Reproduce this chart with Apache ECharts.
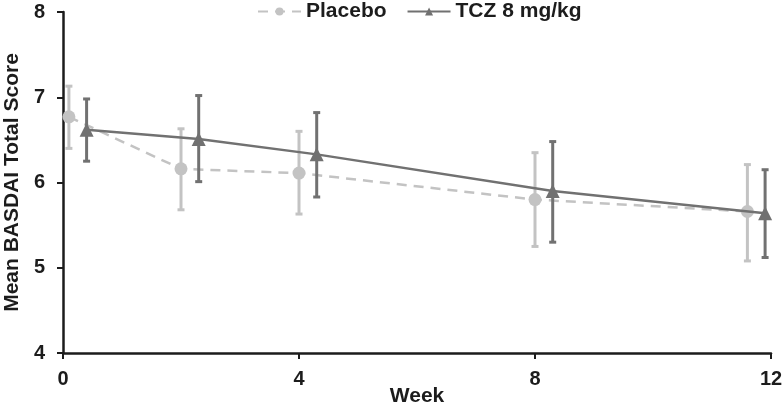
<!DOCTYPE html>
<html>
<head>
<meta charset="utf-8">
<script src="https://cdn.jsdelivr.net/npm/echarts@6/dist/echarts.min.js"></script>
<style>
  html, body { margin: 0; padding: 0; background: #fff; }
  #chart { width: 784px; height: 408px; }
</style>
</head>
<body>
<div id="chart"></div>
<script>
// data
const placeboWeek = [0.1, 2, 4, 8, 11.6];
const placeboMean = [6.77, 6.16, 6.11, 5.80, 5.66];
const placeboLow = [6.40, 5.68, 5.63, 5.25, 5.08];
const placeboHigh = [7.13, 6.63, 6.60, 6.35, 6.21];

const tczWeek = [0.4, 2.3, 4.3, 8.3, 11.9];
const tczMean = [6.62, 6.51, 6.33, 5.90, 5.64];
const tczLow = [6.25, 6.01, 5.83, 5.30, 5.12];
const tczHigh = [6.98, 7.02, 6.82, 6.48, 6.15];

const xTicks = [0, 4, 8, 12];
const yTicks = [4, 5, 6, 7, 8];

const lightGray = "#c3c3c3";
const darkGray = "#717171";
const ink = "#1c1c1c";
const font = "Liberation Sans";

function pairs(xs, ys) {
  return xs.map((x, i) => [x, ys[i]]);
}

function errRows(xs, lo, hi) {
  return xs.map((x, i) => [x, lo[i], hi[i]]);
}

function errBar(color) {
  return function (params, api) {
    const x = api.value(0);
    const top = api.coord([x, api.value(2)]);
    const bot = api.coord([x, api.value(1)]);
    const cap = 3.5;
    const style = { stroke: color, lineWidth: 3 };
    return {
      type: "group",
      children: [
        { type: "line", shape: { x1: top[0], y1: top[1], x2: bot[0], y2: bot[1] }, style: style },
        { type: "line", shape: { x1: top[0] - cap, y1: top[1], x2: top[0] + cap, y2: top[1] }, style: style },
        { type: "line", shape: { x1: bot[0] - cap, y1: bot[1], x2: bot[0] + cap, y2: bot[1] }, style: style },
      ],
    };
  };
}

const chart = echarts.init(document.getElementById("chart"), null, { renderer: "canvas" });

const nameStyle = { fontSize: 21, fontWeight: "bold", color: ink, fontFamily: font };

let option = {
  animation: false,
  backgroundColor: "#fff",
  textStyle: { fontFamily: font },
  grid: { left: 63, right: 13, top: 12, bottom: 55, containLabel: false, outerBoundsMode: "none" },
  legend: {
    top: -4,
    left: 252,
    itemWidth: 43,
    itemHeight: 10,
    itemGap: 20,
    textStyle: { fontSize: 21, fontWeight: "bold", color: ink, fontFamily: font },
    data: ["Placebo", "TCZ 8 mg/kg"],
  },
  xAxis: {
    type: "value",
    min: 0,
    max: 12,
    interval: 4,
    name: "Week",
    nameLocation: "middle",
    nameGap: 33,
    nameMoveOverlap: false,
    nameTextStyle: nameStyle,
    axisLine: { lineStyle: { color: ink, width: 2.5 } },
    axisTick: { show: true, length: 6, lineStyle: { color: ink, width: 2 } },
    axisLabel: {
      fontSize: 20,
      fontWeight: "bold",
      color: ink,
      margin: 16,
      formatter: (v) => (xTicks.includes(v) ? String(v) : ""),
    },
    splitLine: { show: false },
  },
  yAxis: {
    type: "value",
    min: 4,
    max: 8,
    interval: 1,
    name: "Mean BASDAI Total Score",
    nameLocation: "middle",
    nameGap: 40,
    nameMoveOverlap: false,
    nameTextStyle: nameStyle,
    axisLine: { show: true, lineStyle: { color: ink, width: 2.5 } },
    axisTick: { show: true, length: 6, lineStyle: { color: ink, width: 2 } },
    axisLabel: {
      fontSize: 20,
      fontWeight: "bold",
      color: ink,
      margin: 18,
      formatter: (v) => (yTicks.includes(v) ? String(v) : ""),
    },
    splitLine: { show: false },
  },
  series: [
    {
      name: "Placebo err",
      type: "custom",
      renderItem: errBar(lightGray),
      data: errRows(placeboWeek, placeboLow, placeboHigh),
      encode: { x: 0, y: [1, 2] },
      z: 1,
      silent: true,
    },
    {
      name: "TCZ err",
      type: "custom",
      renderItem: errBar(darkGray),
      data: errRows(tczWeek, tczLow, tczHigh),
      encode: { x: 0, y: [1, 2] },
      z: 3,
      silent: true,
    },
    {
      name: "Placebo",
      type: "line",
      data: pairs(placeboWeek, placeboMean),
      symbol: "circle",
      symbolSize: 13,
      color: lightGray,
      lineStyle: { color: lightGray, width: 2.5, type: [10, 7] },
      itemStyle: { color: lightGray },
      z: 2,
    },
    {
      name: "TCZ 8 mg/kg",
      type: "line",
      data: pairs(tczWeek, tczMean),
      symbol: "triangle",
      symbolSize: 14,
      color: darkGray,
      lineStyle: { color: darkGray, width: 2.5 },
      itemStyle: { color: darkGray },
      z: 4,
    },
  ],
};

chart.setOption(option);
</script>
</body>
</html>
